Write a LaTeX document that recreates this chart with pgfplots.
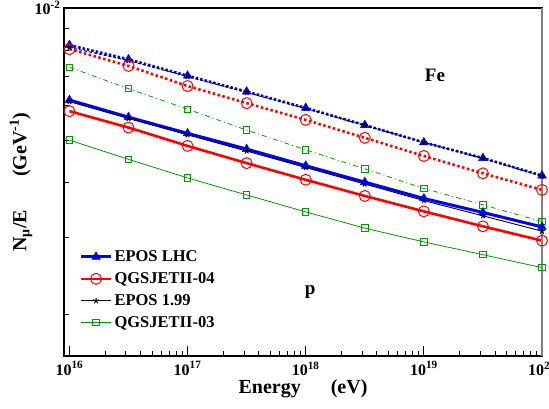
\documentclass[border=0pt]{standalone}
\usepackage{pgfplots}
\usepackage{pgfplotstable}
\pgfplotsset{compat=1.18}
\usepackage{fontspec}
\setmainfont{Liberation Serif}
\usetikzlibrary{plotmarks}

\pgfplotstableread{
E          lhcFe    eFe      qqFe     qFe      lhcP     eP       qqP      qP
1e16       8.23e-3  8.13e-3  8.06e-3  7.33e-3  6.17e-3  6.12e-3  5.82e-3  5.00e-3
3.1623e16  7.64e-3  7.59e-3  7.38e-3  6.55e-3  5.64e-3  5.60e-3  5.34e-3  4.52e-3
1e17       7.01e-3  6.98e-3  6.64e-3  5.88e-3  5.18e-3  5.14e-3  4.85e-3  4.10e-3
3.1623e17  6.45e-3  6.42e-3  6.07e-3  5.27e-3  4.77e-3  4.72e-3  4.43e-3  3.75e-3
1e18       5.92e-3  5.90e-3  5.56e-3  4.75e-3  4.37e-3  4.33e-3  4.06e-3  3.43e-3
3.1623e18  5.41e-3  5.40e-3  5.06e-3  4.30e-3  4.01e-3  3.97e-3  3.73e-3  3.15e-3
1e19       4.94e-3  4.94e-3  4.60e-3  3.88e-3  3.68e-3  3.64e-3  3.44e-3  2.93e-3
3.1623e19  4.55e-3  4.54e-3  4.20e-3  3.56e-3  3.42e-3  3.36e-3  3.18e-3  2.74e-3
1e20       4.15e-3  4.14e-3  3.85e-3  3.26e-3  3.17e-3  3.10e-3  2.95e-3  2.56e-3
}\data

\begin{document}
\begin{tikzpicture}
\begin{axis}[
  scale only axis, width=478pt, height=348pt,
  xmode=log, ymode=log,
  xmin=9.0e15, xmax=1e20, ymin=1.61e-3, ymax=1e-2,
  clip=false,
  axis line style={line width=1.2pt},
  tick align=inside,
  xtick pos=left, ytick pos=left,
  major tick length=10pt, minor tick length=5pt,
  every tick/.style={black, line width=0.8pt},
  xtick={1e16,1e17,1e18,1e19,1e20},
  xticklabels={\textbf{10\textsuperscript{16}},\textbf{10\textsuperscript{17}},\textbf{10\textsuperscript{18}},\textbf{10\textsuperscript{19}},\textbf{10\textsuperscript{20}}},
  minor xtick={2e16,3e16,4e16,5e16,6e16,7e16,8e16,9e16,2e17,3e17,4e17,5e17,6e17,7e17,8e17,9e17,2e18,3e18,4e18,5e18,6e18,7e18,8e18,9e18,2e19,3e19,4e19,5e19,6e19,7e19,8e19,9e19},
  ytick={1e-2},
  yticklabels={\textbf{10\textsuperscript{-2}}},
  minor ytick={2e-3,3e-3,4e-3,5e-3,6e-3,7e-3,8e-3,9e-3},
  ticklabel style={font=\fontsize{16}{18}\selectfont\bfseries},
  xticklabel style={yshift=-2pt},
  xlabel={Energy\hspace{30pt}(eV)},
  xlabel style={font=\fontsize{20}{22}\selectfont\bfseries, at={(axis description cs:0.5,0)}, anchor=north, yshift=-20pt},
  ylabel={N\textsubscript{μ}/E\hspace{33pt}(GeV\textsuperscript{-1})},
  ylabel style={font=\fontsize{20}{22}\selectfont\bfseries, at={(axis description cs:-0.09,0.5)}, anchor=center},
  legend style={at={(axis description cs:0.03,0.312)}, anchor=north west, draw=none, fill=none,
     font=\fontsize{16.5}{18}\selectfont\bfseries, row sep=5.5pt, inner sep=1pt},
  legend cell align=left,
  legend image code/.code={\draw[mark repeat=2,mark phase=2] plot coordinates {(0pt,0pt) (15pt,0pt) (30pt,0pt)};},
]
% Fe
\addplot[blue, line width=2.6pt, dash pattern=on 2.5pt off 2pt, mark=triangle*, mark size=5pt, mark options={solid, line width=0.5pt}, forget plot] table[x=E,y=lhcFe]{\data};
\addplot[black, line width=1pt, dash pattern=on 3pt off 2pt, mark=star, mark size=3pt, mark options={solid, line width=1pt}, forget plot] table[x=E,y=eFe]{\data};
\addplot[red, line width=2.6pt, dash pattern=on 2.5pt off 2.5pt, mark=o, mark size=5.5pt, mark options={solid, fill=white, line width=1pt}, forget plot] table[x=E,y=qqFe]{\data};
\addplot[green!60!black, line width=0.8pt, dash pattern=on 5pt off 3pt on 1pt off 3pt, mark=square, mark size=3.2pt, mark options={solid, fill=white, line width=0.9pt}, forget plot] table[x=E,y=qFe]{\data};
% p
\addplot[blue, line width=3pt, mark=triangle*, mark size=5pt, mark options={line width=0.5pt}] table[x=E,y=lhcP]{\data};
\addlegendentry{EPOS LHC}
\addplot[red, line width=2.6pt, mark=o, mark size=5.5pt, mark options={fill=white, line width=1pt}] table[x=E,y=qqP]{\data};
\addlegendentry{QGSJETII-04}
\addplot[black, line width=0.9pt, mark=star, mark size=3pt, mark options={line width=1pt}] table[x=E,y=eP]{\data};
\addlegendentry{EPOS 1.99}
\addplot[green!60!black, line width=0.8pt, mark=square, mark size=3.2pt, mark options={fill=white, line width=0.9pt}] table[x=E,y=qP]{\data};
\addlegendentry{QGSJETII-03}
\draw[gray, line width=2pt] (rel axis cs:1,0) -- (rel axis cs:1,1);
\node[font=\fontsize{19}{21}\selectfont\bfseries] at (rel axis cs:0.776,0.807) {Fe};
\node[font=\fontsize{19}{21}\selectfont\bfseries] at (rel axis cs:0.515,0.185) {p};
\end{axis}
\pgfresetboundingbox
\path[use as bounding box] (-64pt,-52pt) rectangle (485pt,356pt);
\end{tikzpicture}
\end{document}
